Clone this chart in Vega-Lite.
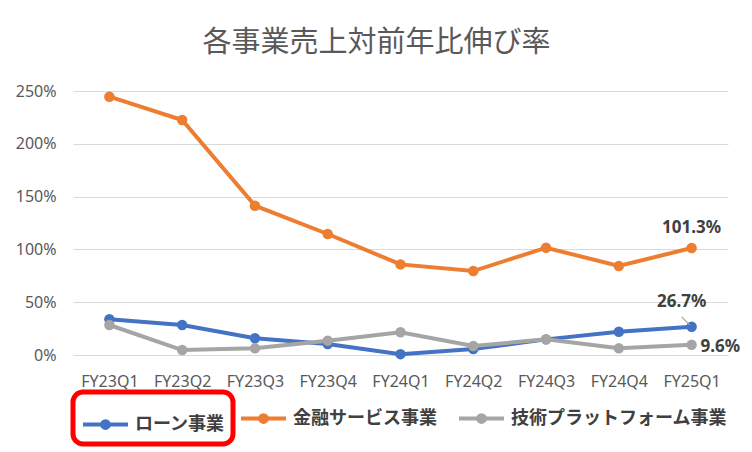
{
  "$schema": "https://vega.github.io/schema/vega-lite/v6.json",
  "width": 655,
  "height": 264,
  "autosize": {"type": "none"},
  "padding": {"left": 73, "top": 91, "right": 24, "bottom": 97},
  "background": "white",
  "title": {
    "text": "各事業売上対前年比伸び率",
    "font": "Noto Sans CJK JP",
    "fontSize": 29,
    "fontWeight": "normal",
    "color": "#595959",
    "anchor": "middle",
    "offset": 25,
    "dx": -24
  },
  "datasets": {
    "rates": [
      {"q": "FY23Q1", "series": "ローン事業", "v": 33.8},
      {"q": "FY23Q2", "series": "ローン事業", "v": 28.4},
      {"q": "FY23Q3", "series": "ローン事業", "v": 15.8},
      {"q": "FY23Q4", "series": "ローン事業", "v": 10.4},
      {"q": "FY24Q1", "series": "ローン事業", "v": 0.8},
      {"q": "FY24Q2", "series": "ローン事業", "v": 5.7},
      {"q": "FY24Q3", "series": "ローン事業", "v": 14.8},
      {"q": "FY24Q4", "series": "ローン事業", "v": 22.0},
      {"q": "FY25Q1", "series": "ローン事業", "v": 26.7},
      {"q": "FY23Q1", "series": "金融サービス事業", "v": 244.6},
      {"q": "FY23Q2", "series": "金融サービス事業", "v": 222.5},
      {"q": "FY23Q3", "series": "金融サービス事業", "v": 141.4},
      {"q": "FY23Q4", "series": "金融サービス事業", "v": 114.6},
      {"q": "FY24Q1", "series": "金融サービス事業", "v": 85.8},
      {"q": "FY24Q2", "series": "金融サービス事業", "v": 79.5},
      {"q": "FY24Q3", "series": "金融サービス事業", "v": 101.6},
      {"q": "FY24Q4", "series": "金融サービス事業", "v": 84.3},
      {"q": "FY25Q1", "series": "金融サービス事業", "v": 101.3},
      {"q": "FY23Q1", "series": "技術プラットフォーム事業", "v": 28.4},
      {"q": "FY23Q2", "series": "技術プラットフォーム事業", "v": 4.7},
      {"q": "FY23Q3", "series": "技術プラットフォーム事業", "v": 6.3},
      {"q": "FY23Q4", "series": "技術プラットフォーム事業", "v": 13.6},
      {"q": "FY24Q1", "series": "技術プラットフォーム事業", "v": 21.5},
      {"q": "FY24Q2", "series": "技術プラットフォーム事業", "v": 8.5},
      {"q": "FY24Q3", "series": "技術プラットフォーム事業", "v": 14.8},
      {"q": "FY24Q4", "series": "技術プラットフォーム事業", "v": 6.3},
      {"q": "FY25Q1", "series": "技術プラットフォーム事業", "v": 9.6}
    ]
  },
  "data": {"name": "rates"},
  "encoding": {
    "x": {
      "field": "q",
      "type": "ordinal",
      "sort": null,
      "scale": {"type": "point", "padding": 0.5},
      "title": null,
      "axis": {
        "labelAngle": 0,
        "labelFont": "Noto Sans",
        "labelFontSize": 16,
        "labelColor": "#595959",
        "labelPadding": 18,
        "ticks": false,
        "domainColor": "#d9d9d9",
        "grid": false
      }
    },
    "y": {
      "field": "v",
      "type": "quantitative",
      "scale": {"domain": [0, 250]},
      "title": null,
      "axis": {
        "values": [0, 50, 100, 150, 200, 250],
        "labelExpr": "datum.value + '%'",
        "labelFont": "Noto Sans",
        "labelFontSize": 16,
        "labelColor": "#595959",
        "labelPadding": 17,
        "ticks": false,
        "domain": false,
        "gridColor": "#d9d9d9",
        "gridWidth": 1.2
      }
    }
  },
  "layer": [
    {
      "transform": [{"filter": "datum.series === 'ローン事業'"}],
      "mark": {"type": "line", "strokeWidth": 4, "point": {"filled": true, "size": 110}},
      "encoding": {
        "color": {
          "field": "series",
          "type": "nominal",
          "scale": {"domain": ["ローン事業"], "range": ["#4472C4"]},
          "legend": {
            "title": null,
            "orient": "bottom",
            "direction": "horizontal",
            "symbolType": "M-1,0H1M0,-0.15A0.15,0.15 0 1,1 0,0.15A0.15,0.15 0 1,1 0,-0.15",
            "symbolSize": 2025,
            "symbolStrokeWidth": 4,
            "symbolFillColor": "#4472C4",
            "strokeColor": "#FF0000",
            "cornerRadius": 10,
            "padding": 8,
            "offset": 3,
            "encode": {"legend": {"update": {"strokeWidth": {"value": 5}}}}
          }
        }
      }
    },
    {
      "transform": [{"filter": "datum.series !== 'ローン事業'"}],
      "mark": {"type": "line", "strokeWidth": 4, "point": {"filled": true, "size": 110}},
      "encoding": {
        "color": {
          "field": "series",
          "type": "nominal",
          "sort": null,
          "scale": {"domain": ["金融サービス事業", "技術プラットフォーム事業"], "range": ["#ED7D31", "#A5A5A5"]},
          "legend": {
            "title": null,
            "orient": "bottom",
            "direction": "horizontal",
            "symbolType": "M-1,0H1M0,-0.15A0.15,0.15 0 1,1 0,0.15A0.15,0.15 0 1,1 0,-0.15",
            "symbolSize": 2025,
            "symbolStrokeWidth": 4,
            "columnPadding": 14,
            "padding": 2,
            "offset": 3
          }
        }
      }
    },
    {
      "transform": [{"filter": "datum.q === 'FY25Q1' && datum.series === 'ローン事業'"}],
      "mark": {"type": "rule", "color": "#a5a5a5", "strokeWidth": 1.2, "xOffset": -10, "yOffset": -10, "x2Offset": -2, "y2Offset": -2},
      "encoding": {"x2": {"field": "q"}, "y2": {"field": "v"}}
    },
    {
      "transform": [
        {"filter": "datum.q === 'FY25Q1' && datum.series === '金融サービス事業'"},
        {"calculate": "format(datum.v, '.1f') + '%'", "as": "label"}
      ],
      "mark": {"type": "text", "font": "Noto Sans", "fontSize": 17, "fontWeight": "bold", "color": "#404040", "dy": -20},
      "encoding": {"text": {"field": "label"}}
    },
    {
      "transform": [
        {"filter": "datum.q === 'FY25Q1' && datum.series === 'ローン事業'"},
        {"calculate": "format(datum.v, '.1f') + '%'", "as": "label"}
      ],
      "mark": {"type": "text", "font": "Noto Sans", "fontSize": 17, "fontWeight": "bold", "color": "#404040", "dx": -10, "dy": -25},
      "encoding": {"text": {"field": "label"}}
    },
    {
      "transform": [
        {"filter": "datum.q === 'FY25Q1' && datum.series === '技術プラットフォーム事業'"},
        {"calculate": "format(datum.v, '.1f') + '%'", "as": "label"}
      ],
      "mark": {"type": "text", "font": "Noto Sans", "fontSize": 17, "fontWeight": "bold", "color": "#404040", "align": "left", "dx": 9, "dy": 2},
      "encoding": {"text": {"field": "label"}}
    }
  ],
  "resolve": {"scale": {"color": "independent"}},
  "config": {
    "view": {"stroke": null},
    "legend": {
      "labelFont": "Noto Sans CJK JP",
      "labelFontSize": 18,
      "labelFontWeight": "bold",
      "labelColor": "#404040",
      "labelOffset": 5,
      "labelLimit": 400,
      "layout": {"bottom": {"anchor": "middle", "direction": "horizontal", "margin": 4}}
    }
  }
}
